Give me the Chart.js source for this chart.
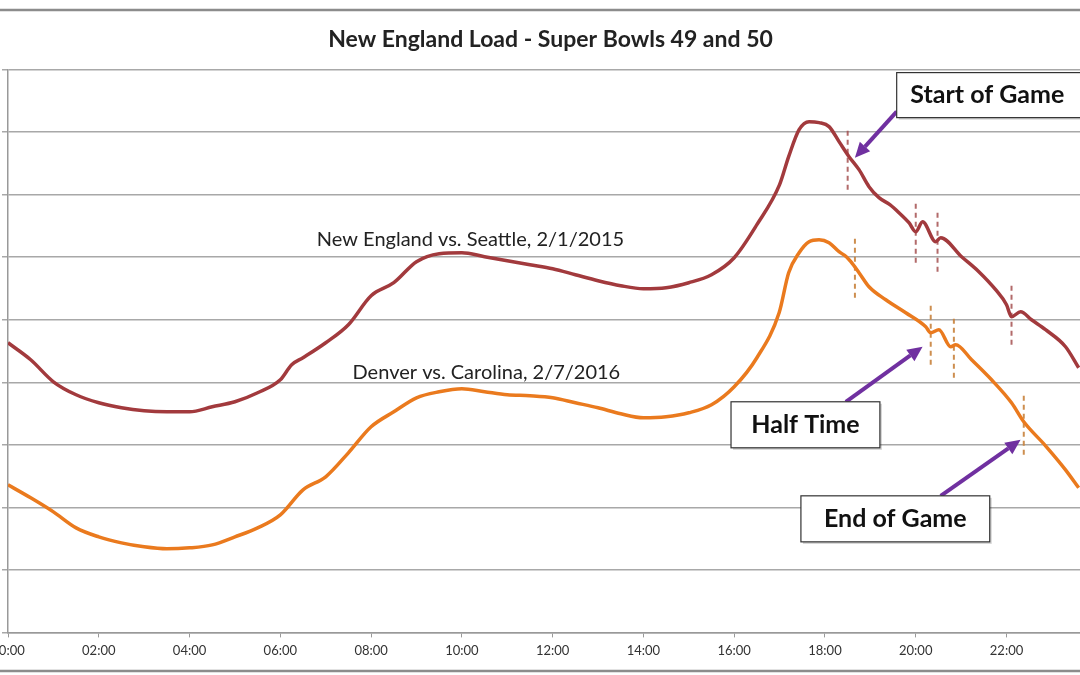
<!DOCTYPE html>
<html>
<head>
<meta charset="utf-8">
<script src="https://cdn.jsdelivr.net/npm/chart.js@4.4.1/dist/chart.umd.min.js"></script>
<style>
  html, body { margin: 0; padding: 0; background: #fff; overflow: hidden; }
  #wrap { position: absolute; left: -40px; top: 0; width: 1160px; height: 675px; }
</style>
</head>
<body>
<div id="wrap"><canvas id="chart"></canvas></div>
<script>
// New England vs. Seattle, 2/1/2015 (hour of day, load MW)
const neHours = [0, 0.5, 1, 1.5, 2, 2.5, 3, 3.5, 4, 4.5, 5, 5.5, 6, 6.25, 6.5, 7, 7.5, 8, 8.5, 9, 9.5, 10, 10.5, 11, 11.5, 12, 12.5, 13, 13.5, 14, 14.5, 15, 15.5, 16, 16.5, 17, 17.2, 17.43, 17.65, 17.87, 18.09, 18.31, 18.53, 18.75, 18.97, 19.19, 19.43, 19.63, 19.85, 20.0, 20.15, 20.44, 20.55, 21.01, 21.39, 21.76, 22.0, 22.11, 22.31, 22.55, 22.86, 23.3, 23.59];
const neLoad = [13632, 13360, 13008, 12800, 12672, 12592, 12544, 12528, 12528, 12608, 12688, 12832, 13040, 13280, 13392, 13632, 13920, 14384, 14592, 14928, 15056, 15072, 15008, 14944, 14880, 14816, 14720, 14624, 14544, 14496, 14512, 14592, 14720, 14992, 15520, 16160, 16608, 17040, 17168, 17152, 17088, 16848, 16608, 16400, 16128, 15952, 15840, 15712, 15552, 15408, 15568, 15248, 15312, 15008, 14768, 14480, 14240, 14048, 14128, 14000, 13840, 13568, 13232];

// Denver vs. Carolina, 2/7/2016
const dcHours = [0, 0.5, 1, 1.5, 2, 2.5, 3, 3.5, 4, 4.5, 5, 5.5, 6, 6.5, 7, 7.5, 8, 8.5, 9, 9.5, 10, 10.5, 11, 11.5, 12, 12.5, 13, 13.5, 14, 14.5, 15, 15.5, 16, 16.5, 16.99, 17.2, 17.43, 17.65, 17.87, 18.09, 18.31, 18.47, 18.57, 18.75, 18.97, 19.34, 19.78, 20.22, 20.33, 20.51, 20.77, 20.88, 21.23, 21.67, 22.11, 22.38, 22.86, 23.3, 23.59];
const dcLoad = [11360, 11152, 10928, 10672, 10528, 10432, 10368, 10336, 10352, 10400, 10528, 10672, 10880, 11280, 11488, 11872, 12288, 12528, 12752, 12848, 12896, 12848, 12800, 12784, 12752, 12672, 12592, 12496, 12432, 12448, 12512, 12640, 12928, 13392, 14112, 14752, 15072, 15248, 15280, 15232, 15088, 15008, 14928, 14752, 14528, 14320, 14112, 13888, 13792, 13840, 13568, 13600, 13360, 13040, 12672, 12368, 11984, 11600, 11312];

// dashed event markers: hour, low MW, high MW
const neMarkHours = [18.5, 20.0, 20.48, 22.11];
const neMarkLow = [16080, 14912, 14768, 13600];
const neMarkHigh = [17088, 15888, 15760, 14592];
const dcMarkHours = [18.66, 20.33, 20.84, 22.38];
const dcMarkLow = [14352, 13280, 13072, 11840];
const dcMarkHigh = [15360, 14272, 14048, 12832];

const xTicks = [0, 2, 4, 6, 8, 10, 12, 14, 16, 18, 20, 22, 24];

// series labels: text, hour, MW (centre)
const seriesLabels = [
    { text: 'New England vs. Seattle, 2/1/2015', h: 10.19, mw: 15280 },
    { text: 'Denver vs. Carolina, 2/7/2016', h: 10.54, mw: 13152 }
];

// callout boxes: box left/right hours, top/bottom MW, arrow from -> tip
const callouts = [
    { text: 'Start of Game', x0: 19.58, x1: 24.2, top: 17952, bot: 17232, textX: 19.88, fromH: 19.58, fromMW: 17328, tipH: 18.66, tipMW: 16592 },
    { text: 'Half Time', x0: 15.93, x1: 19.21, top: 12688, bot: 11952, fromH: 18.46, fromMW: 12688, tipH: 20.15, tipMW: 13568 },
    { text: 'End of Game', x0: 17.47, x1: 21.63, top: 11184, bot: 10448, fromH: 20.55, fromMW: 11184, tipH: 22.31, tipMW: 12080 }
];

const toPoints = (xs, ys) => xs.map((x, i) => ({ x: x, y: ys[i] }));

function markerSets(hours, lows, highs, color) {
    return hours.map((h, i) => ({
        data: [{ x: h, y: lows[i] }, { x: h, y: highs[i] }],
        borderColor: color,
        borderWidth: 2,
        borderDash: [5, 4],
        pointRadius: 0,
        fill: false
    }));
}

// frame lines and text overlays
const overlay = {
    id: 'overlay',
    beforeDraw(chart) {
        const ctx = chart.ctx;
        ctx.save();
        ctx.strokeStyle = '#8c8c8c';
        ctx.lineWidth = 2.5;
        ctx.beginPath();
        ctx.moveTo(0, 10); ctx.lineTo(chart.width, 10);
        ctx.moveTo(0, 671); ctx.lineTo(chart.width, 671);
        ctx.stroke();
        ctx.restore();
    },
    afterDatasetsDraw(chart) {
        const ctx = chart.ctx;
        const xs = chart.scales.x, ys = chart.scales.y;
        ctx.save();
        ctx.fillStyle = '#222';
        ctx.font = '20px Lato';
        ctx.textAlign = 'center';
        ctx.textBaseline = 'middle';
        seriesLabels.forEach(l => {
            ctx.fillText(l.text, xs.getPixelForValue(l.h), ys.getPixelForValue(l.mw));
        });

        callouts.forEach(c => {
            // arrow
            const fx = xs.getPixelForValue(c.fromH), fy = ys.getPixelForValue(c.fromMW);
            const tx = xs.getPixelForValue(c.tipH), ty = ys.getPixelForValue(c.tipMW);
            const ang = Math.atan2(ty - fy, tx - fx);
            const head = 15;
            const bx = tx - head * Math.cos(ang), by = ty - head * Math.sin(ang);
            ctx.strokeStyle = '#7030a0';
            ctx.fillStyle = '#7030a0';
            ctx.lineWidth = 4;
            ctx.beginPath();
            ctx.moveTo(fx, fy);
            ctx.lineTo(bx, by);
            ctx.stroke();
            ctx.beginPath();
            ctx.moveTo(tx, ty);
            ctx.lineTo(bx + 7 * Math.sin(ang), by - 7 * Math.cos(ang));
            ctx.lineTo(bx - 7 * Math.sin(ang), by + 7 * Math.cos(ang));
            ctx.closePath();
            ctx.fill();

            // box
            const l = xs.getPixelForValue(c.x0), r = xs.getPixelForValue(c.x1);
            const t = ys.getPixelForValue(c.top), b = ys.getPixelForValue(c.bot);
            ctx.fillStyle = 'rgba(0,0,0,0.18)';
            ctx.fillRect(l + 2, t + 2, r - l, b - t);
            ctx.fillStyle = '#fff';
            ctx.fillRect(l, t, r - l, b - t);
            ctx.strokeStyle = '#333';
            ctx.lineWidth = 1.2;
            ctx.strokeRect(l, t, r - l, b - t);
            ctx.fillStyle = '#111';
            ctx.font = 'bold 25px Lato';
            ctx.textBaseline = 'middle';
            if (c.textX !== undefined) {
                ctx.textAlign = 'left';
                ctx.fillText(c.text, xs.getPixelForValue(c.textX), (t + b) / 2);
            } else {
                ctx.textAlign = 'center';
                ctx.fillText(c.text, (l + r) / 2, (t + b) / 2);
            }
        });
        ctx.restore();
    }
};

const datasets = [
    {
        label: 'New England vs. Seattle, 2/1/2015',
        data: toPoints(neHours, neLoad),
        borderColor: '#a23a3d',
        borderWidth: 3.5,
        pointRadius: 0,
        cubicInterpolationMode: 'monotone',
        fill: false
    },
    {
        label: 'Denver vs. Carolina, 2/7/2016',
        data: toPoints(dcHours, dcLoad),
        borderColor: '#ea7a1e',
        borderWidth: 3.5,
        pointRadius: 0,
        cubicInterpolationMode: 'monotone',
        fill: false
    }
].concat(
    markerSets(neMarkHours, neMarkLow, neMarkHigh, 'rgba(165,80,80,0.85)'),
    markerSets(dcMarkHours, dcMarkLow, dcMarkHigh, 'rgba(200,130,60,0.9)')
);

new Chart(document.getElementById('chart'), {
    type: 'line',
    data: { datasets: datasets },
    options: {
        responsive: true,
        maintainAspectRatio: false,
        animation: false,
        layout: { padding: { left: 42, right: 21, top: 0, bottom: 10 } },
        plugins: {
            legend: { display: false },
            tooltip: { enabled: false },
            title: {
                display: true,
                text: 'New England Load - Super Bowls 49 and 50',
                color: '#222',
                font: { family: 'Lato', size: 23, weight: 'bold' },
                padding: { top: 26, bottom: 16 }
            }
        },
        scales: {
            x: {
                type: 'linear',
                min: 0,
                max: 24,
                afterBuildTicks: (scale) => { scale.ticks = xTicks.map(v => ({ value: v })); },
                ticks: {
                    color: '#333',
                    font: { family: 'Lato', size: 13 },
                    padding: 6,
                    maxRotation: 0,
                    callback: (v) => String(v).padStart(2, '0') + ':00'
                },
                grid: { drawOnChartArea: false, color: '#999', tickLength: 5 },
                border: { color: '#999', width: 1.5 }
            },
            y: {
                min: 9000,
                max: 18000,
                ticks: { display: false, stepSize: 1000 },
                grid: { color: '#a8a8a8', lineWidth: 1.5, tickLength: 6 },
                border: { color: '#999', width: 1.5 }
            }
        }
    },
    plugins: [overlay]
});
</script>
</body>
</html>
